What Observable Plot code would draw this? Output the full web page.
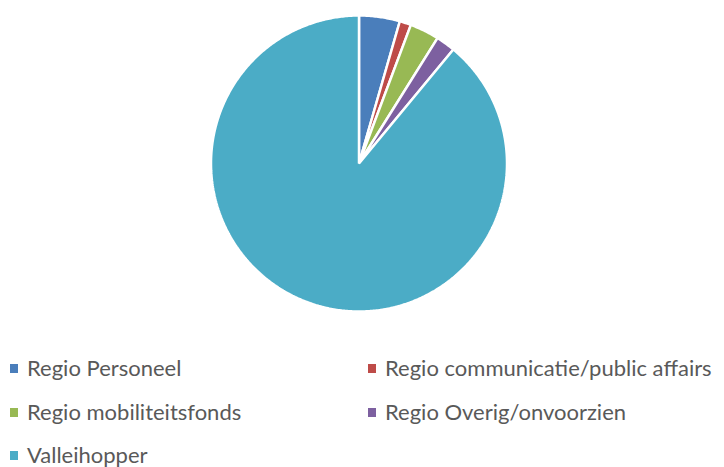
<!DOCTYPE html>
<html>
<head>
<meta charset="utf-8">
<script src="https://cdn.jsdelivr.net/npm/d3@7"></script>
<script src="https://cdn.jsdelivr.net/npm/@observablehq/plot@0.6"></script>
<style>
  body { margin: 0; background: #fff; font-family: Lato, "Open Sans", sans-serif; }
  #chart { width: 724px; }
  .legend { position: relative; height: 137px; color: #595959; font-size: 22px; }
  .item { position: absolute; display: flex; align-items: center; white-space: nowrap; line-height: 1; height: 22px; }
  .sw { width: 8px; height: 9px; margin-right: 9px; }
</style>
</head>
<body>
<div id="chart"></div>
<script>
const categories = ["Regio Personeel", "Regio communicatie/public affairs", "Regio mobiliteitsfonds", "Regio Overig/onvoorzien", "Valleihopper"];
const values = [4.45, 1.25, 3.2, 2.1, 89.0];
const colors = ["#4A7EBB", "#BE4B48", "#98B954", "#7D60A0", "#4BACC6"];

const W = 724, H = 330, cx = 358.5, cy = 163, R = 148;
const data = categories.map((c, i) => ({category: c, value: values[i]}));
const arcs = d3.pie().sort(null).value(d => d.value)(data);

// Build slice outlines in unit-radius coordinates from the pie angles
const pts = [];
arcs.forEach((a, i) => {
  const n = Math.max(4, Math.ceil((a.endAngle - a.startAngle) / 0.01));
  pts.push({k: i, x: 0, y: 0});
  for (let j = 0; j <= n; j++) {
    const t = a.startAngle + (a.endAngle - a.startAngle) * j / n;
    pts.push({k: i, x: Math.sin(t), y: Math.cos(t)});
  }
});

const plot = Plot.plot({
  width: W, height: H,
  margin: 0,
  x: {domain: [-cx / R, (W - cx) / R], axis: null},
  y: {domain: [-(H - cy) / R, cy / R], axis: null},
  color: {domain: d3.range(categories.length), range: colors},
  marks: [
    Plot.line(pts, {x: "x", y: "y", z: "k", fill: "k", stroke: "white", strokeWidth: 2.5, curve: "linear-closed", strokeLinejoin: "miter"})
  ]
});
document.getElementById("chart").appendChild(plot);

const legend = document.createElement("div");
legend.className = "legend";
const pos = [[10, 368], [368, 368], [10, 412], [368, 412], [10, 455]];
categories.forEach((c, i) => {
  const it = document.createElement("div");
  it.className = "item";
  it.style.left = pos[i][0] + "px";
  it.style.top = (pos[i][1] - H - 11) + "px";
  it.innerHTML = `<span class="sw" style="background:${colors[i]}"></span><span>${c}</span>`;
  legend.appendChild(it);
});
document.getElementById("chart").appendChild(legend);
</script>
</body>
</html>
